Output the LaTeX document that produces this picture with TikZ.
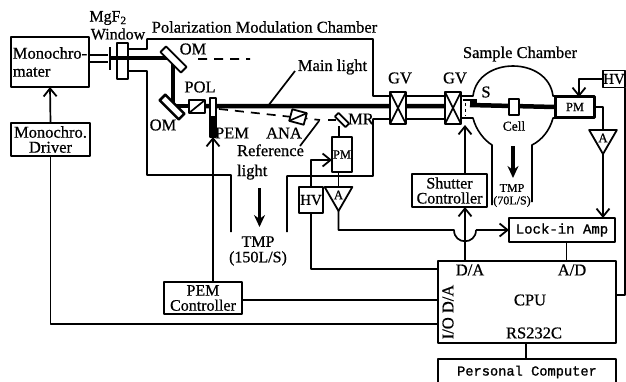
\documentclass[tikz,border=0pt]{standalone}
\usepackage{fontspec}
\setmainfont{Liberation Serif}[FakeBold=0.7]
\setmonofont{Liberation Mono}[FakeBold=1.2]
\usetikzlibrary{arrows.meta,shapes.geometric}
\tikzset{
	box/.style={draw,line width=1.9pt,fill=white,inner sep=0pt,outer sep=0pt,align=center,font=\fontsize{16}{15}\selectfont},
	smallbox/.style={box,font=\fontsize{12.5}{12}\selectfont},
	mirror/.style={draw,line width=1.8pt,fill=white,inner sep=0pt,outer sep=0pt},
	amp/.style={draw,line width=1.8pt,fill=white,regular polygon,regular polygon sides=3,shape border rotate=180,minimum size=32pt,inner sep=0pt,outer sep=0pt,font=\fontsize{13}{13}\selectfont},
	lbl/.style={inner sep=0pt,outer sep=0pt,align=center,font=\fontsize{16.5}{14}\selectfont},
	tinylbl/.style={lbl,font=\fontsize{12}{12.5}\selectfont},
	wall/.style={line width=1.6pt},
	beam/.style={line width=4.5pt},
	sig/.style={line width=1.7pt},
	arr/.style={sig,-{Straight Barb[length=8pt,width=13pt,line width=1.8pt]}},
	pump/.style={line width=3.5pt,-{Stealth[length=12pt,width=11pt]}}
}
\begin{document}
\begin{tikzpicture}[x=1pt,y=-1pt,line join=round]
	\path[use as bounding box,clip] (0,0) rectangle (626,381);
	% points on the boxes
	\path (465,125) coordinate (Sh) (465,261) coordinate (DA) (566.5,261) coordinate (AD)
	(526,343) coordinate (RS) (579,97) coordinate (PMin) (332,160) coordinate (PMref)
	(339,126) coordinate (MRout) (438,269) coordinate (CPUa) (438,300) coordinate (CPUb)
	(438,324) coordinate (CPUc) (616,295) coordinate (CPUd);
	% vacuum chambers
	\draw[wall] (128,49)--(147,49)--(147,39)--(373,39)--(373,96)--(390,96)
	(128,71)--(147,71)--(147,175)--(231,175)--(231,232)
	(287,232)--(287,176)--(373,176)--(373,119)--(390,119)
	(406,96)--(445,96) (406,119)--(445,119)
	(461,96)--(473,96) .. controls (478,56) and (548,56) .. (553,96)--(560,96)
	(461,118)--(473,118) .. controls (476,130) and (484,140) .. (492,145)--(492,205)
	(560,118)--(553,118) .. controls (550,130) and (542,140) .. (532,145)--(532,202);
	% light
	\draw[sig] (89,55)--(108,55) (89,62)--(108,62) (110,47)--(110,70);
	\node[box,minimum width=11pt,minimum height=36pt] (Win) at (122.5,61) {};
	\draw[line width=3.2pt] (110,58)--(173,58)--(173,106)--(190,106);
	\draw[beam] (205,106)--(445,106) (470,105)--(555,107);
	\draw[line width=1.7pt,dash pattern=on 9pt off 7pt] (198,59)--(250,59)
	(219,109)--(320,120);
	\draw[sig] (328,120)--(336,120);
	\draw[sig] (295,71)--(268,106) (300,146)--(319,121);
	% shutter
	\draw[sig] (463,100)--(477,100);
	\fill (470,100) rectangle (477,106);
	\draw[line width=1pt,dash pattern=on 3pt off 3pt] (465,103)--(465,116);
	% optics
	\node[mirror,minimum width=29pt,minimum height=8pt,rotate=-45] (OMa) at (173.5,59.5) {};
	\node[mirror,minimum width=27pt,minimum height=8pt,rotate=-45,line width=2.6pt] (OMb) at (172,107) {};
	\node[mirror,minimum width=16pt,minimum height=13pt] (POL) at (197,106.5) {};
	\draw[sig] (POL.south west)--(POL.north east);
	\node[mirror,minimum width=6pt,minimum height=39pt] (PEM) at (213,117.5) {};
	\fill (PEM.west |- 0,116) rectangle (PEM.south east);
	\node[mirror,minimum width=15pt,minimum height=12pt,rotate=-15] (ANA) at (298,117) {};
	\draw[sig] (ANA.south west)--(ANA.north east);
	\node[mirror,minimum width=15pt,minimum height=5pt,rotate=-45] (MR) at (342,120) {};
	\node[mirror,minimum width=10pt,minimum height=16pt] (Cell) at (514,107) {};
	\foreach \i/\j in {GVa/398,GVb/453}{
		\node[mirror,minimum width=16pt,minimum height=32pt] (\i) at (\j,108) {};
		\draw[sig] (\i.north west)--(\i.south east) (\i.north east)--(\i.south west);
	}
	% boxes
	\node[box,minimum width=78pt,minimum height=50pt,font=\fontsize{16.5}{18}\selectfont,align=left] (Mono) at (50,62) {Monochro-\\mater};
	\node[box,minimum width=79pt,minimum height=33pt,font=\fontsize{16.5}{15}\selectfont] (Driver) at (50.5,139.5) {Monochro.\\Driver};
	\node[box,minimum width=78pt,minimum height=32pt] (PEMc) at (203,298) {PEM\\Controller};
	\node[box,minimum width=75pt,minimum height=33pt] (ShC) at (449.5,190.5) {Shutter\\Controller};
	\node[box,minimum width=106pt,minimum height=24pt,font=\fontsize{14}{14}\selectfont\ttfamily] (Lock) at (562,230) {Lock-in Amp};
	\node[box,minimum width=178pt,minimum height=82pt] (CPU) at (527,302) {};
	\node[box,minimum width=178pt,minimum height=26pt,font=\fontsize{13.7}{14}\selectfont\ttfamily] (PC) at (527,372) {Personal Computer};
	\node[smallbox,minimum width=20pt,minimum height=35pt] (PMa) at (342,154.5) {PM};
	\node[smallbox,minimum width=39pt,minimum height=21pt,line width=2.8pt] (PMb) at (575,107) {PM};
	\node[box,minimum width=24pt,minimum height=26pt,font=\fontsize{15}{15}\selectfont] (HVa) at (311,200) {HV};
	\node[box,minimum width=22pt,minimum height=17pt,font=\fontsize{15}{15}\selectfont] (HVb) at (614,79) {HV};
	\node[amp] (Aa) at (338.5,195) {A};
	\node[amp] (Ab) at (603,138) {A};
	% connections
	\draw[arr] (Driver.north)--(Mono.south);
	\draw[sig] (Driver.south) |- (CPUc);
	\draw[arr] (PEMc.north -| PEM.south)--(PEM.south);
	\draw[sig] (PEMc.east |- CPUb)--(CPUb);
	\draw[arr] (ShC.north -| Sh)--(Sh);
	\draw[arr] (DA)--(DA |- ShC.south);
	\draw[sig] (AD)--(AD |- Lock.south);
	\draw[sig] (RS)--(RS |- PC.north);
	\draw[sig] (HVa.south) |- (CPUa);
	\draw[arr] (HVa.north) |- (PMref);
	\draw[sig] (Aa.north)--(Aa.north |- PMa.south);
	\draw[sig] (MRout)--(MRout |- PMa.north);
	\draw[sig] (Aa.south) |- (454,230) .. controls (454,245) and (476,245) .. (476,230);
	\draw[arr] (476,230)--(Lock.west);
	\draw[sig] (PMb.east) -| (Ab.north);
	\draw[arr] (Ab.south)--(Ab.south |- Lock.north);
	\draw[arr] (HVb.west) -| (PMin);
	\draw[sig] (HVb.south east) |- (CPUd);
	% pumps
	\draw[pump] (259.5,188)--(259.5,227);
	\draw[pump] (513,146)--(513,178);
	% labels
	\foreach \i/\x/\y/\t in {lPol/264.5/27/Polarization Modulation Chamber,lSam/520/54/Sample Chamber,
		lOMa/193/49/OM,lOMb/163/125/OM,lPOL/200/87/POL,lPEM/232/133/PEM,lANA/284/133/ANA,
		lMR/361/119/MR,lGVa/400/78/GV,lGVb/455/78/GV,lS/486/92/S,lMain/332.5/67/Main light,
		lCPU/530/300/CPU,lDA/470/270/D\slash A,lAD/572/270/A\slash D,lRS/534/333/RS232C}{
		\node[lbl] (\i) at (\x,\y) {\t};
	}
	\node[lbl,font=\fontsize{16}{16}\selectfont] (lMg) at (108,18) {MgF\textsubscript{2}};
	\node[lbl,font=\fontsize{16}{16}\selectfont] (lWin) at (118,34) {Window};
	\node[lbl,align=left,font=\fontsize{16.5}{20}\selectfont] (lRef) at (270.5,162) {Reference\\light};
	\node[lbl,font=\fontsize{16}{15.5}\selectfont] (lTMPa) at (258,251) {TMP\\(150L/S)};
	\node[tinylbl] (lTMPb) at (512,195.5) {TMP\\(70L/S)};
	\node[lbl,font=\fontsize{13.5}{13}\selectfont] (lCell) at (514,126) {Cell};
	\node[lbl,rotate=90] (lIO) at (448,312) {I/O D/A};
\end{tikzpicture}
\end{document}
